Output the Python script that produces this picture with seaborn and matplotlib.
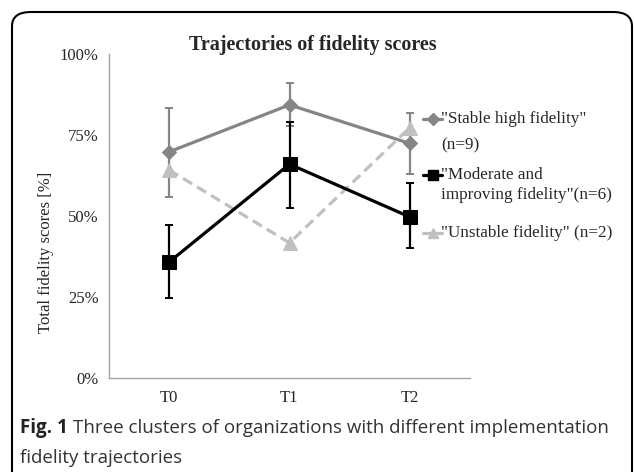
import matplotlib
matplotlib.use("Agg")
import matplotlib.pyplot as plt
from matplotlib.patches import FancyBboxPatch
from matplotlib.lines import Line2D
import seaborn as sns
import pandas as pd

# data (percent)
timepoints = ["T0", "T1", "T2"]
stable = [69.8, 84.3, 72.4]
stable_lo = [55.9, 77.8, 63.0]
stable_hi = [83.3, 91.0, 81.8]
moderate = [35.8, 66.0, 49.7]
moderate_lo = [24.7, 52.5, 40.1]
moderate_hi = [47.2, 79.0, 60.2]
unstable = [64.2, 41.7, 77.3]

labels = ['"Stable high fidelity"\n(n=9)',
          '"Moderate and\nimproving fidelity"(n=6)',
          '"Unstable fidelity" (n=2)']

sns.set_style("white")
plt.rcParams["font.family"] = ["Liberation Serif", "DejaVu Serif"]

W, H = 634, 472
fig = plt.figure(figsize=(W / 100, H / 100), dpi=100)
ax = fig.add_axes([109 / W, 1 - 378 / H, 361 / W, 324 / H])

# rounded frame around the panel
frame = FancyBboxPatch((12 / W, -0.2), 620 / W, 1.2 - 12 / H,
                       boxstyle="round,pad=0,rounding_size=0.03",
                       transform=fig.transFigure, fill=False,
                       edgecolor="black", linewidth=1.5, clip_on=False)
fig.patches.append(frame)

x = list(range(len(timepoints)))
df = pd.DataFrame({"x": x * 3,
                   "y": stable + moderate + unstable,
                   "grp": [labels[0]] * 3 + [labels[1]] * 3 + [labels[2]] * 3})

grey = "#858585"
light = "#c0c0c0"
styles = [
    dict(color=grey, marker="D", ms=7.5, ls="-", lw=2.3),
    dict(color="black", marker="s", ms=10, ls="-", lw=2.3),
    dict(color=light, marker="^", ms=9.5, ls=(0, (3.3, 1.8)), lw=2.3),
]

ax.errorbar(x, stable, yerr=[[s - l for s, l in zip(stable, stable_lo)],
                             [h - s for s, h in zip(stable, stable_hi)]],
            fmt="none", ecolor=grey, elinewidth=1.6, capsize=3, capthick=1.4, zorder=2)
ax.errorbar(x, moderate, yerr=[[s - l for s, l in zip(moderate, moderate_lo)],
                               [h - s for s, h in zip(moderate, moderate_hi)]],
            fmt="none", ecolor="black", elinewidth=1.6, capsize=3, capthick=1.4, zorder=4)

for lab, st, z in zip(labels, styles, [3, 5, 2.5]):
    sub = df[df["grp"] == lab]
    sns.lineplot(data=sub, x="x", y="y", ax=ax, color=st["color"], marker=st["marker"],
                 markersize=st["ms"], linestyle=st["ls"], linewidth=st["lw"],
                 markeredgecolor=st["color"], legend=False, zorder=z)

ax.set_xlim(-0.5, 2.5)
ax.set_ylim(0, 100)
ax.set_yticks([0, 25, 50, 75, 100])
ax.set_yticklabels(["0%", "25%", "50%", "75%", "100%"], fontsize=12)
ax.set_xticks([-0.5, 0.5, 1.5, 2.5])
ax.set_xticklabels([])
ax.set_xticks(x, minor=True)
ax.set_xticklabels(timepoints, minor=True, fontsize=12)
axcol = "#a6a6a6"
ax.tick_params(axis="x", which="major", direction="out", length=5, color=axcol, width=1)
ax.tick_params(axis="x", which="minor", length=0, pad=9)
ax.tick_params(axis="y", direction="out", length=6.5, color=axcol, width=1, pad=1)
for s in ["top", "right"]:
    ax.spines[s].set_visible(False)
for s in ["left", "bottom"]:
    ax.spines[s].set_color(axcol)
    ax.spines[s].set_linewidth(1)
ax.set_xlabel("")
ax.set_ylabel("Total fidelity scores [%]", fontsize=12)
ax.yaxis.set_label_coords(-55 / 361, (378 - 252) / 324)

fig.text(313 / W, 1 - 45 / H, "Trajectories of fidelity scores",
         ha="center", va="center", fontsize=14.5, fontweight="bold")

# legend, laid out like the original (marker beside the first text line)
leg_rows = [(119, [labels[0].split("\n")[0], labels[0].split("\n")[1]], 26),
            (175, [labels[1].split("\n")[0], labels[1].split("\n")[1]], 20),
            (233, [labels[2]], 20)]
for (yy, lines, step), st in zip(leg_rows, styles):
    fy = 1 - yy / H
    fig.add_artist(Line2D([423 / W, 442 / W], [fy, fy], transform=fig.transFigure,
                          color=st["color"], lw=st["lw"], ls="-"))
    fig.add_artist(Line2D([432.5 / W], [fy], transform=fig.transFigure,
                          color=st["color"], marker=st["marker"],
                          ms=st["ms"] * 0.75, ls="none"))
    for i, ln in enumerate(lines):
        fig.text(441 / W, 1 - (yy + i * step) / H, ln, fontsize=12.3, va="center")

# caption
cap_font = ["Open Sans", "DejaVu Sans"]
t1 = fig.text(20 / W, 1 - 428 / H, "Fig. 1", fontsize=13.5, fontweight="bold",
              family=cap_font, color="#222222", va="center")
fig.canvas.draw()
bb = t1.get_window_extent()
fig.text((bb.x1 + 5) / W, 1 - 428 / H,
         "Three clusters of organizations with different implementation",
         fontsize=13.5, family=cap_font, color="#333333", va="center")
fig.text(20 / W, 1 - 458 / H, "fidelity trajectories",
         fontsize=13.5, family=cap_font, color="#333333", va="center")

fig.savefig("out.png", dpi=100)
